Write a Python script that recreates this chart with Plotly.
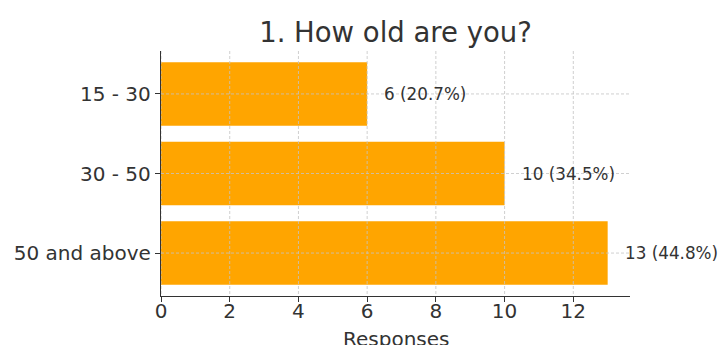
import plotly.graph_objects as go

# Survey question 1: age groups
categories = ["15 - 30", "30 - 50", "50 and above"]
responses = [6, 10, 13]
x_ticks = [0, 2, 4, 6, 8, 10, 12]

total = sum(responses)
positions = list(range(len(categories)))

FONT = "DejaVu Sans, Verdana, sans-serif"
TEXT = "#333333"
BAR = "#FFA500"
GRID = "#c4c4c4"
DASH = "3px,2px"

x_max = max(responses) * 1.05
y_lo, y_hi = -0.4 - 0.14, len(categories) - 1 + 0.4 + 0.14

fig = go.Figure(
    go.Bar(
        x=responses,
        y=positions,
        orientation="h",
        width=0.8,
        marker=dict(color=BAR, line=dict(width=0)),
        hoverinfo="skip",
    )
)

# dashed grid drawn over the bars
shapes = []
for t in x_ticks:
    shapes.append(dict(type="line", xref="x", yref="y", x0=t, x1=t, y0=y_lo, y1=y_hi,
                       line=dict(color=GRID, width=0.8, dash=DASH), layer="above"))
for p in positions:
    shapes.append(dict(type="line", xref="x", yref="y", x0=0, x1=x_max, y0=p, y1=p,
                       line=dict(color=GRID, width=0.8, dash=DASH), layer="above"))

# value labels to the right of each bar
annotations = []
for p, v in zip(positions, responses):
    annotations.append(dict(
        x=v + 0.5, y=p, xref="x", yref="y", xshift=-2,
        text=f"{v} ({v / total * 100:.1f}%)",
        showarrow=False, xanchor="left", yanchor="middle",
        font=dict(family=FONT, size=16.8, color=TEXT),
    ))

# x-axis title placed beneath the tick labels
plot_h = 345 - 51 - 49
annotations.append(dict(
    x=0.5, y=-(339 - 296) / plot_h, xref="paper", yref="paper",
    text="Responses", showarrow=False, xanchor="center", yanchor="middle",
    font=dict(family=FONT, size=20, color=TEXT),
))

fig.update_layout(
    width=721, height=345,
    margin=dict(l=161, r=91, t=51, b=49, autoexpand=False),
    paper_bgcolor="white", plot_bgcolor="white",
    title=dict(text="1. How old are you?", x=(161 + 630) / 2 / 721, xanchor="center",
               y=1 - 32 / 345, yanchor="middle",
               font=dict(family=FONT, size=27.5, color=TEXT)),
    showlegend=False,
    shapes=shapes,
    annotations=annotations,
    xaxis=dict(
        range=[0, x_max], tickvals=x_ticks, showgrid=False, zeroline=False,
        showline=True, linecolor=TEXT, linewidth=1.4,
        ticks="outside", ticklen=5, tickcolor=TEXT, tickwidth=1.1,
        tickfont=dict(family=FONT, size=20, color=TEXT),
        ticklabelstandoff=-8,
        automargin=False,
    ),
    yaxis=dict(
        range=[y_hi, y_lo], tickvals=positions, ticktext=categories,
        showgrid=False, zeroline=False,
        showline=True, linecolor=TEXT, linewidth=1.4,
        ticks="outside", ticklen=5, tickcolor=TEXT, tickwidth=1.1,
        tickfont=dict(family=FONT, size=20, color=TEXT),
        automargin=False,
    ),
)

fig.write_html("out.html")
